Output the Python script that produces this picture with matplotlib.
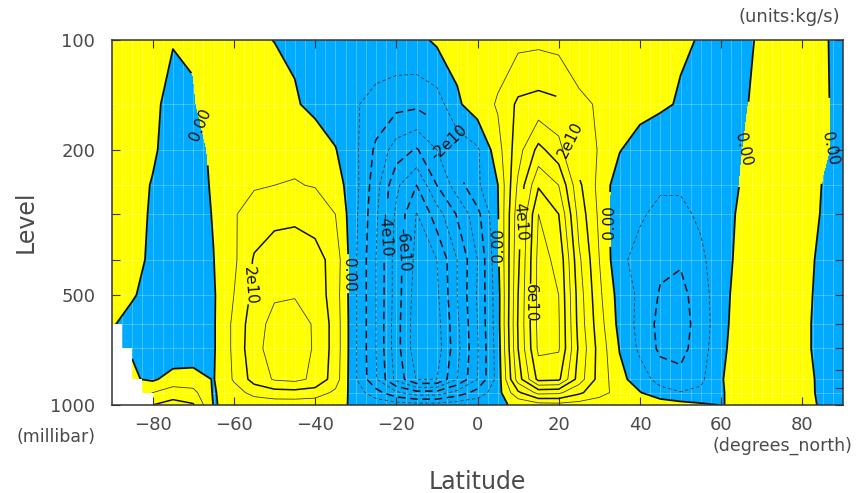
import numpy as np
import matplotlib
matplotlib.use('Agg')
import matplotlib.pyplot as plt
from matplotlib.ticker import FixedLocator, NullFormatter

# ---------- Grid of the field (lat every 5 deg, standard pressure levels) ----------
LATS = np.arange(-90, 91, 5)
LEVELS = [100, 150, 200, 250, 300, 400, 500, 600, 700, 850, 925, 1000]

# mass streamfunction, units of 1e10 kg/s (lat -90 ... 90)
PSI_100 = [0.10, 0.10, 0.08, 0.02, 0.05, 0.10, 0.10, 0.08, -0.01, -0.10, -0.15, -0.20, -0.25,
           -0.30, -0.30, -0.25, 0.15, 0.30, 0.45, 0.60, 0.75, 0.80, 0.70, 0.50, 0.40, 0.30,
           0.20, 0.15, 0.07, -0.03, -0.10, -0.05, 0.03, 0.05, 0.05, 0.02, -0.05]
PSI_150 = [0.25, 0.20, 0.10, -0.15, -0.05, 0.30, 0.40, 0.40, 0.30, 0.08, -0.20, -0.50, -0.90,
           -1.40, -1.70, -1.80, -1.50, -0.15, 0.50, 1.10, 2.20, 2.40, 2.20, 1.20, 0.90, 0.60,
           0.35, 0.12, -0.07, -0.25, -0.30, -0.10, 0.20, 0.25, 0.20, 0.05, -0.10]
PSI_200 = [0.40, 0.30, 0.10, -0.30, -0.30, 0.15, 0.50, 0.80, 0.90, 0.80, 0.50, 0.05, -0.80,
           -2.20, -3.50, -4.10, -3.00, -1.75, -1.15, 0.60, 2.60, 4.30, 3.40, 1.40, 0.95, 0.05,
           -0.50, -0.60, -0.60, -0.50, -0.30, -0.02, 0.30, 0.30, 0.30, 0.05, -0.10]
PSI_250 = [0.40, 0.30, -0.05, -0.35, -0.35, 0.10, 0.60, 0.90, 1.00, 1.05, 0.95, 0.50, -0.70,
           -2.60, -4.80, -6.00, -4.00, -2.50, -1.15, -0.02, 3.20, 5.90, 5.00, 2.20, 0.70, -0.60,
           -0.80, -0.90, -0.90, -0.70, -0.40, 0.05, 0.35, 0.40, 0.30, -0.02, -0.15]
PSI_300 = [0.40, 0.30, -0.10, -0.40, -0.40, 0.05, 0.90, 1.50, 1.75, 1.80, 1.60, 1.00, -0.80,
           -2.80, -5.20, -7.05, -5.50, -3.90, -2.30, -0.10, 3.60, 7.00, 6.00, 2.60, 0.80, -0.80,
           -0.90, -1.20, -1.20, -0.85, -0.45, 0.20, 0.40, 0.40, 0.30, -0.05, -0.20]
PSI_400 = [0.40, 0.25, -0.15, -0.45, -0.50, -0.02, 0.80, 2.10, 2.50, 2.60, 2.40, 1.60, -0.90,
           -3.00, -5.50, -7.30, -7.00, -5.00, -3.00, -0.20, 3.80, 7.30, 6.80, 3.20, 1.00, -0.80,
           -1.30, -1.80, -1.90, -1.20, -0.40, 0.30, 0.50, 0.50, 0.30, -0.20, -0.30]
PSI_500 = [0.30, 0.05, -0.20, -0.50, -0.50, -0.10, 1.00, 2.30, 2.90, 2.95, 2.60, 1.50, -0.90,
           -3.00, -5.50, -7.50, -7.20, -5.00, -2.90, -0.40, 4.00, 7.30, 7.00, 3.50, 1.20, -0.40,
           -1.20, -2.10, -2.30, -1.50, -0.30, 0.38, 0.50, 0.50, 0.20, -0.20, -0.30]
PSI_600 = [0.05, -0.20, -0.40, -0.60, -0.60, -0.10, 1.20, 2.60, 3.30, 3.40, 2.90, 1.60, -0.90,
           -3.00, -5.60, -7.60, -7.40, -5.20, -3.00, -0.40, 4.10, 7.30, 7.10, 3.60, 1.40, -0.30,
           -1.30, -2.30, -2.40, -1.60, -0.30, 0.50, 0.55, 0.50, 0.15, -0.20, -0.30]
PSI_700 = [0.00, -0.05, -0.50, -0.70, -0.60, -0.10, 1.20, 2.70, 3.40, 3.50, 2.90, 1.60, -0.90,
           -3.00, -5.60, -7.60, -7.50, -5.30, -3.10, -0.50, 4.00, 7.20, 7.10, 3.80, 1.60, -0.05,
           -1.20, -2.20, -2.30, -1.50, -0.20, 0.50, 0.55, 0.50, 0.15, -0.20, -0.30]
PSI_850 = [0.00, 0.10, -0.15, 0.40, 0.40, -0.05, 1.10, 2.40, 3.10, 3.25, 2.80, 1.50, -0.90,
           -2.90, -5.30, -7.05, -7.00, -5.00, -3.00, -0.60, 3.50, 6.30, 6.20, 3.50, 1.60, 0.30,
           -0.50, -1.40, -1.70, -1.20, -0.05, 0.40, 0.45, 0.40, 0.15, -0.10, -0.20]
PSI_925 = [0.00, 0.50, 1.00, 1.50, 1.30, -0.10, 0.60, 1.30, 1.60, 1.65, 1.50, 0.80, -0.50,
           -1.60, -2.80, -3.60, -3.60, -2.60, -1.60, -0.40, 1.80, 3.30, 3.20, 2.20, 1.30, 0.70,
           0.05, -0.60, -0.95, -0.80, -0.05, 0.25, 0.25, 0.20, 0.08, -0.05, -0.10]
PSI_1000 = [0.00, 1.00, 2.00, 2.40, 2.10, -0.05, 0.20, 0.35, 0.40, 0.40, 0.35, 0.15, -0.10,
            -0.30, -0.45, -0.50, -0.50, -0.35, -0.25, -0.15, 0.15, 0.50, 0.60, 0.50, 0.50, 0.50,
            0.60, 0.60, 0.40, 0.15, -0.02, 0.10, 0.10, 0.05, 0.05, -0.02, -0.05]

# undefined (below ground) area near Antarctica
MASK_LAT_EDGES = [-90, -87.5, -85, -82.5, -80]
MASK_TOP = [600, 700, 850, 925]

# contour labels (lat, hPa)
LABEL_POS = [(-68.3, 171), (-58, 469), (-32.6, 440), (-7.5, 196), (-21.5, 342), (-18.3, 376),
             (3.8, 364), (10.6, 315), (13.7, 525), (23.5, 184), (31.4, 315), (64.7, 198),
             (86.4, 198)]

YELLOW = '#ffff00'
BLUE = '#00aaff'
TXT = '#4a4a4a'

psi = np.array([PSI_100, PSI_150, PSI_200, PSI_250, PSI_300, PSI_400, PSI_500, PSI_600,
                PSI_700, PSI_850, PSI_925, PSI_1000]) * 1e10

fig = plt.figure(figsize=(8.66, 4.93), dpi=100)
ax = fig.add_axes([112 / 866, 1 - 405 / 493, 731 / 866, 365 / 493])

# filled sign
ax.contourf(LATS, LEVELS, psi, levels=[-1e12, 0, 1e12], colors=[BLUE, YELLOW], zorder=1)

# faint data grid
for la in np.arange(-87.5, 90, 2.5):
    ax.axvline(la, color='white', lw=0.6, alpha=0.3, zorder=1.5)
for p in LEVELS[1:-1]:
    ax.axhline(p, color='white', lw=0.6, alpha=0.3, zorder=1.5)

# thin lines for odd levels
thin = [k * 1e10 for k in range(-7, 8, 2)]
ax.contour(LATS, LEVELS, psi, levels=thin, colors='#3a3a20', linewidths=0.6,
           linestyles=[(0, (4, 3)) if v < 0 else 'solid' for v in thin], zorder=2)

# thick lines for even levels and zero
thick = [k * 1e10 for k in (-6, -4, -2, 0, 2, 4, 6)]
cs = ax.contour(LATS, LEVELS, psi, levels=thick, colors='#111111',
                linewidths=[1.3 if v == 0 else 1.1 for v in thick],
                linestyles=[(0, (5, 3)) if v < 0 else 'solid' for v in thick], zorder=2)


def fmt(v):
    if abs(v) < 1:
        return '0.00'
    return f'{v / 1e10:.0f}e10'


ax.clabel(cs, fmt=fmt, manual=LABEL_POS, inline=True, fontsize=11, colors='#111111')

# below-ground mask
ax.stairs(MASK_TOP, MASK_LAT_EDGES, baseline=1000, fill=True, color='white', zorder=3)

ax.set_yscale('log')
ax.set_xlim(-90, 90)
ax.set_ylim(1000, 100)
ax.yaxis.set_major_locator(FixedLocator([100, 200, 500, 1000]))
ax.yaxis.set_major_formatter(plt.FixedFormatter(['100', '200', '500', '1000']))
ax.yaxis.set_minor_locator(FixedLocator([300, 400, 600, 700, 800, 900]))
ax.yaxis.set_minor_formatter(NullFormatter())
ax.set_xticks([-80, -60, -40, -20, 0, 20, 40, 60, 80])
ax.set_xticklabels(['\u221280', '\u221260', '\u221240', '\u221220', '0', '20', '40', '60', '80'])
ax.tick_params(which='both', direction='in', top=True, right=True, length=6,
               width=0.8, color='#333333', labelsize=13, labelcolor=TXT)
ax.tick_params(axis='x', pad=8)
ax.tick_params(axis='y', pad=12)
for s in ax.spines.values():
    s.set_color('#333333')
    s.set_linewidth(1.1)
    s.set_zorder(4)

fig.text(840 / 866, 1 - 17 / 493, '(units:kg/s)', ha='right', va='center', fontsize=13, color=TXT)
fig.text(56 / 866, 1 - 437 / 493, '(millibar)', ha='center', va='center', fontsize=12.5, color=TXT)
fig.text(782 / 866, 1 - 446 / 493, '(degrees_north)', ha='center', va='center', fontsize=12.5, color=TXT)
fig.text(477 / 866, 1 - 482 / 493, 'Latitude', ha='center', va='center', fontsize=17, color=TXT)
fig.text(26 / 866, 1 - 222 / 493, 'Level', ha='center', va='center', fontsize=17, color=TXT,
         rotation=90)

fig.savefig('out.png', dpi=100)
